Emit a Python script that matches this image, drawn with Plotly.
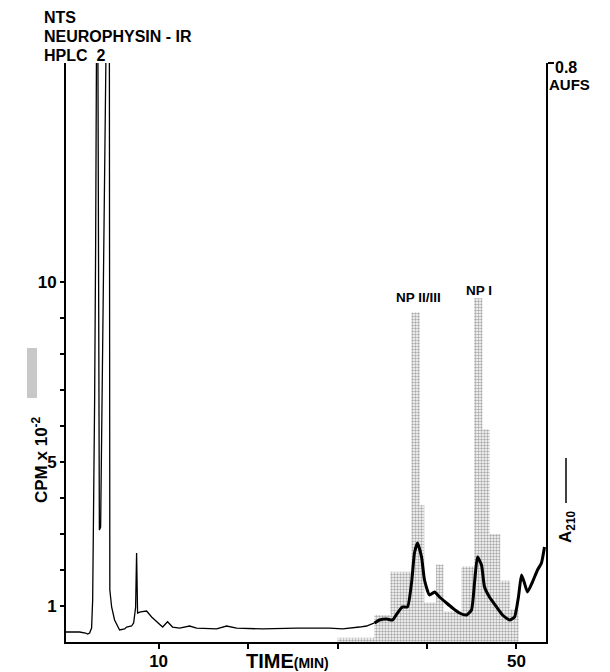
import plotly.graph_objects as go

FONT = "Liberation Sans"

# ---------------- data ----------------
# A210 absorbance trace (time in min, absorbance; 0.8 AUFS full scale)
t_thin = [-0.39, 1.17, 1.84, 2.07, 2.29, 2.51, 2.63, 2.74, 2.85, 2.96, 3.02, 3.12, 3.22, 3.30, 3.38,
          3.52, 3.74, 4.08, 4.29, 4.50, 4.55, 4.75, 5.08, 5.64, 6.20, 6.43, 6.98, 7.21, 7.43, 7.54,
          7.65, 7.99, 8.66, 9.22, 9.78, 10.45, 11.00, 11.56, 12.35, 13.46, 14.25, 16.48, 17.60,
          18.72, 21.62, 25.42, 29.11, 30.56, 32.46, 33.24, 34.13]
a_thin = [0.0138, 0.0138, 0.0124, 0.0111, 0.0124, 0.0193, 0.0580, 0.1686, 0.3344, 0.5416, 0.80, 1.0, 0.80, 0.40, 0.1548,
          0.1589, 0.3896, 0.80, 1.0, 0.80, 0.0718, 0.0484, 0.0304, 0.0166, 0.0180, 0.0207, 0.0221, 0.0263, 0.0480, 0.1230,
          0.0401, 0.0415, 0.0428, 0.0346, 0.0276, 0.0207, 0.0279, 0.0207, 0.0193, 0.0221, 0.0193, 0.0180, 0.0221,
          0.0193, 0.0180, 0.0193, 0.0193, 0.0180, 0.0207, 0.0221, 0.0263]
t_thick = [34.13, 34.69, 35.48, 36.15, 36.70, 37.26, 37.82, 38.27, 38.60, 38.94, 39.39, 39.72, 40.28, 40.84,
           41.40, 42.18, 42.85, 43.63, 44.41, 44.97, 45.31, 45.64, 46.09, 46.43, 46.98, 47.77, 48.44, 49.22,
           49.78, 50.22, 50.56, 50.89, 51.23, 51.79, 52.35, 52.79, 53.13]
a_thick = [0.0263, 0.0304, 0.0318, 0.0304, 0.0401, 0.0484, 0.0484, 0.0815, 0.1230, 0.1368, 0.1174, 0.0857, 0.0649, 0.0691,
           0.0622, 0.0539, 0.0470, 0.0401, 0.0373, 0.0442, 0.0815, 0.1174, 0.1064, 0.0760, 0.0622, 0.0484, 0.0373, 0.0304,
           0.0345, 0.0622, 0.0926, 0.0815, 0.0691, 0.0829, 0.0995, 0.1092, 0.1313]

# Neurophysin immunoreactivity per fraction (CPM x 10^-2), fraction edges in min
frac_edges = [30.0, 34.1, 35.9, 38.25, 39.2, 39.7, 41.0, 41.85, 43.85, 45.25, 46.2, 47.0, 48.2, 49.3, 50.25]
frac_cpm = [0.12, 0.75, 1.95, 9.15, 3.8, 1.1, 2.15, 0.85, 2.1, 9.55, 5.9, 3.0, 1.7, 0.9]

x_label_ticks = [10, 50]
x_ticklabels = ["10", "50"]
x_minor_ticks = [20, 30, 40]
y_label_ticks = [1, 5, 10]
y_ticklabels = ["1", "5", "10"]
y_minor_ticks = [2, 3, 4, 6, 7, 8, 9]

x_range = [-0.35, 53.3]
cpm_range = [0, 16.08]
abs_range = [0, 0.8]

# ---------------- layout geometry ----------------
W, H = 610, 672
OFF = 8  # page body margin of the html page
ML, MR, MT, MB = 58, 72, 55, 38
PW, PH = W - ML - MR, H - MT - MB


def px(x):
    # screenshot pixel -> paper fraction
    return (x - OFF - ML) / PW


def py(y):
    return (H - MB - (y - OFF)) / PH


# step outline of fractions
sx = [frac_edges[0]] + frac_edges + [frac_edges[-1]]
sy = [0] + frac_cpm + [frac_cpm[-1], 0]

fig = go.Figure()
fig.add_trace(go.Scatter(
    x=sx, y=sy, mode="lines", line=dict(width=0, shape="hv"),
    fill="tozeroy", fillcolor="white",
    fillpattern=dict(shape=".", fgcolor="#555555", bgcolor="white", size=3, solidity=0.5),
    hoverinfo="skip", showlegend=False))
fig.add_trace(go.Scatter(x=t_thin, y=a_thin, yaxis="y2", mode="lines",
                         line=dict(color="black", width=1.3), hoverinfo="skip", showlegend=False))
fig.add_trace(go.Scatter(x=t_thick, y=a_thick, yaxis="y2", mode="lines",
                         line=dict(color="black", width=3, shape="spline", smoothing=0.5),
                         hoverinfo="skip", showlegend=False))

tickfont = dict(family=FONT, size=17, color="black")
fig.update_layout(
    width=W, height=H, margin=dict(l=ML, r=MR, t=MT, b=MB, autoexpand=False),
    paper_bgcolor="white", plot_bgcolor="white",
    font=dict(family=FONT, color="black"),
    xaxis=dict(range=x_range, tickvals=x_label_ticks, ticktext=["<b>%s</b>" % s for s in x_ticklabels],
               ticks="outside", ticklen=5, tickwidth=1.5, tickcolor="black", ticklabelstandoff=-2,
               minor=dict(tickvals=x_minor_ticks, ticks="outside", ticklen=5, tickwidth=1.5,
                          tickcolor="black", showgrid=False),
               showline=True, linewidth=2, linecolor="black", showgrid=False, zeroline=False,
               tickfont=tickfont, fixedrange=True),
    yaxis=dict(range=cpm_range, tickvals=y_label_ticks, ticktext=["<b>%s</b>" % s for s in y_ticklabels],
               ticks="outside", ticklen=4, tickwidth=1.5, tickcolor="black",
               minor=dict(tickvals=y_minor_ticks, ticks="outside", ticklen=4, tickwidth=1.5,
                          tickcolor="black", showgrid=False),
               showline=True, linewidth=2, linecolor="black", showgrid=False, zeroline=False,
               tickfont=tickfont, fixedrange=True),
    yaxis2=dict(range=abs_range, overlaying="y", side="right", tickvals=[0.8], showticklabels=False,
                ticks="outside", ticklen=6, tickwidth=1.5, tickcolor="black",
                showline=True, linewidth=2, linecolor="black", showgrid=False, zeroline=False,
                fixedrange=True),
)

ann = []


def add_text(text, x, y, size, xanchor="left", yanchor="middle", angle=0):
    ann.append(dict(text=text, x=px(x), y=py(y), xref="paper", yref="paper", showarrow=False,
                    xanchor=xanchor, yanchor=yanchor, textangle=angle,
                    font=dict(family=FONT, size=size, color="black")))


add_text("<b>NTS</b>", 42, 18, 16)
add_text("<b>NEUROPHYSIN - IR</b>", 42, 36.5, 16)
add_text("<b>HPLC  2</b>", 42, 55, 16)
add_text("<b>0.8</b>", 553, 68, 16)
add_text("<b>AUFS</b>", 547, 84, 15)
add_text("<b>NP II/III</b>", 418, 297, 13.5, xanchor="center")
add_text("<b>NP I</b>", 479, 290, 13.5, xanchor="center")
add_text("<b>TIME</b><span style='font-size:14px'><b>(MIN)</b></span>", 287, 661, 20, xanchor="center")
add_text("<b>CPM x 10</b><sup><b>-2</b></sup>", 40, 460, 17, xanchor="center", angle=-90)
add_text("<b>A</b><sub><b>210</b></sub>", 567, 527, 17, xanchor="center", angle=-90)
fig.update_layout(annotations=ann)

fig.add_shape(type="rect", xref="paper", yref="paper", x0=px(27), x1=px(37), y0=py(398), y1=py(348),
              line=dict(width=0), fillcolor="#c8c8c8")
fig.add_shape(type="line", xref="paper", yref="paper", x0=px(566), x1=px(566), y0=py(503), y1=py(458),
              line=dict(width=1.5, color="black"))

fig.write_html("out.html")
